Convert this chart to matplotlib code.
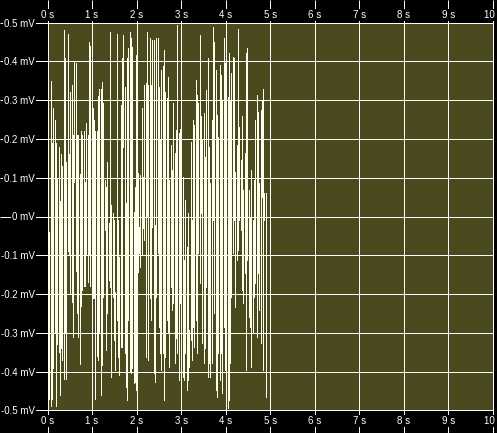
import numpy as np
import matplotlib
matplotlib.use('Agg')
import matplotlib.pyplot as plt
from matplotlib.transforms import ScaledTranslation

plt.rcParams['font.family'] = ['Liberation Sans', 'DejaVu Sans']
plt.rcParams['font.size'] = 7

# peak values per column of the trace (mV)
peak_hi = [0.26, -0.04, 0.35, 0.19, 0.28, 0.25, 0.19, 0.10, 0.18, 0.04, 0.16, 0.13, 0.48, 0.41,
           0.14, 0.47, 0.16, 0.32, 0.34, 0.21, 0.40, 0.395, 0.21, 0.21, 0.11, 0.22, 0.21, 0.22,
           0.09, 0.24, 0.21, 0.45, 0.44, 0.21, 0.28, 0.25, 0.22, 0.22, 0.31, 0.33, 0.33,
           0.348, 0.292, 0.094, 0.077, 0.141, -0.018, 0.477, 0.03, 0.008, -0.009, -0.194, 0.472,
           -0.009, -0.104, 0.288, 0.408, 0.468, 0.335, 0.034, 0.408, 0.434, 0.477, 0.46, 0.438,
           0.012, 0.077, 0.417, 0.111, -0.026, 0.107, 0.279, 0.103, 0.339, 0.344, 0.477, 0.339,
           0.46, 0.339, 0.455, 0.455, -0.022, 0.46,
           0.46, 0.335, 0.197, 0.378, 0.387, 0.43, 0.322, 0.305, 0.361, 0.094, 0.184, 0.12,
           0.292, 0.163, 0.223, 0.494, 0.215, 0.227, -0.095, 0.103, -0.112, 0.043, -0.078, 0.008,
           -0.293, 0.193, -0.009, 0.249, 0.236, 0.352, 0.313, 0.292, 0.468, 0.258, 0.197, 0.266,
           0.154, 0.326, 0.408, 0.18, 0.086, 0.249,
           0.49, 0.451, 0.378, 0.262, 0.206, 0.391, 0.365, 0.30, 0.46, 0.395, 0.395, 0.309,
           0.421, 0.30, 0.369, 0.412, 0.408, 0.116, 0.184, 0.485, 0.232, 0.146, 0.258, 0.068,
           0.163, 0.421, 0.434, 0.068, 0.0, 0.12, -0.009, 0.094, 0.249, 0.313, 0.27, 0.086,
           0.275, 0.30, 0.33, 0.06, 0.06]
peak_lo = [-0.46, -0.47, -0.49, -0.47, -0.39, -0.30, -0.49, -0.33, -0.35, -0.46, -0.34, -0.37, -0.42, -0.30,
           -0.42, -0.09, -0.10, -0.20, -0.22, -0.31, 0.09, -0.14, -0.25, -0.31, -0.38, -0.23, -0.19, -0.18,
           -0.18, -0.10, -0.17, -0.10, -0.18, -0.11, -0.21, -0.21, -0.47, -0.36, -0.37, -0.30, -0.46,
           -0.383, -0.207, -0.035, -0.344, -0.25, -0.164, -0.181, -0.413, -0.207, -0.319, -0.396, -0.267,
           -0.362, -0.409, -0.336, -0.336, 0.18, -0.353, -0.439, -0.473, -0.267, -0.40, -0.405, -0.392,
           -0.43, -0.426, -0.448, -0.142, -0.095, -0.129, -0.099, -0.03, -0.06, -0.362, 0.0, -0.37,
           -0.211, -0.267, -0.026, -0.405, -0.426, -0.207,
           -0.095, -0.284, -0.353, -0.396, -0.353, -0.473, -0.362, -0.267, -0.297, -0.387, -0.181, -0.241,
           -0.224, -0.379, -0.314, -0.353, -0.422, -0.224, -0.43, -0.413, -0.422, -0.353, -0.448, -0.422,
           -0.387, -0.319, -0.37, -0.284, -0.336, -0.267, -0.353, -0.095, -0.172, 0.008, -0.327, -0.379,
           -0.34, -0.181, -0.413, -0.379, -0.413, -0.379,
           -0.009, -0.25, -0.448, -0.465, -0.353, -0.422, -0.353, -0.456, -0.284, -0.396, -0.473, -0.495,
           -0.473, -0.379, -0.207, -0.095, -0.009, -0.233, -0.112, -0.086, -0.009, -0.035, -0.19, -0.224,
           -0.147, -0.396, -0.112, -0.258, -0.284, -0.387, -0.301, -0.207, -0.172, -0.31, -0.147, -0.241,
           -0.327, 0.051, -0.396, -0.009, -0.465]
t_end = 4.9  # trace stops just before 5 s

x_ticks = list(range(0, 11))
x_labels = ['%d s' % v for v in x_ticks]
y_ticks = [0.5, 0.4, 0.3, 0.2, 0.1, 0.0, -0.1, -0.2, -0.3, -0.4, -0.5]
y_labels = ['0.5 mV', '0.4 mV', '0.3 mV', '0.2 mV', '0.1 mV', '0 mV',
            '-0.1 mV', '-0.2 mV', '-0.3 mV', '-0.4 mV', '-0.5 mV']

t = np.linspace(0.01, t_end, len(peak_hi))

W, H = 497, 433
fig = plt.figure(figsize=(W / 100, H / 100), dpi=100, facecolor='black')
ax = fig.add_axes([47.5 / W, (H - 410.3) / H, (493 - 47.5) / W, (410.3 - 22.7) / H])
ax.set_facecolor('#4a4a1e')

# each column of the trace is one vertical stroke between its peaks
ax.vlines(t, peak_lo, peak_hi, color='#ffffee', lw=0.7, antialiased=False, zorder=3)

ax.set_xlim(0, 10)
ax.set_ylim(-0.5, 0.5)
ax.set_xticks(x_ticks)
ax.set_xticklabels(x_labels)
ax.set_yticks(y_ticks)
ax.set_yticklabels(y_labels)
ax.grid(True, color='white', lw=0.7, antialiased=False)
ax.set_axisbelow(True)
for s in ax.spines.values():
    s.set_color('white')
    s.set_linewidth(0.7)
    s.set_antialiased(False)

# tick lines run across the whole margin, labels sit on top of them
ax.tick_params(axis='x', top=True, labeltop=True, bottom=True, labelbottom=True,
               direction='out', length=16.5, width=0.7, color='white', labelcolor='white',
               pad=-12.5)
ax.tick_params(axis='y', left=True, direction='out', length=34.5, width=0.7,
               color='white', labelcolor='white', pad=-25.5)
down = ScaledTranslation(0, -2.5 / 100, fig.dpi_scale_trans)
for tk in ax.xaxis.get_major_ticks() + ax.yaxis.get_major_ticks():
    for lab in (tk.label1, tk.label2):
        lab.set_bbox(dict(facecolor='black', edgecolor='none', pad=0.6))
for tk in ax.xaxis.get_major_ticks():
    tk.label2.set_transform(tk.label2.get_transform() + down)

fig.savefig('out.png', dpi=100, facecolor='black')
